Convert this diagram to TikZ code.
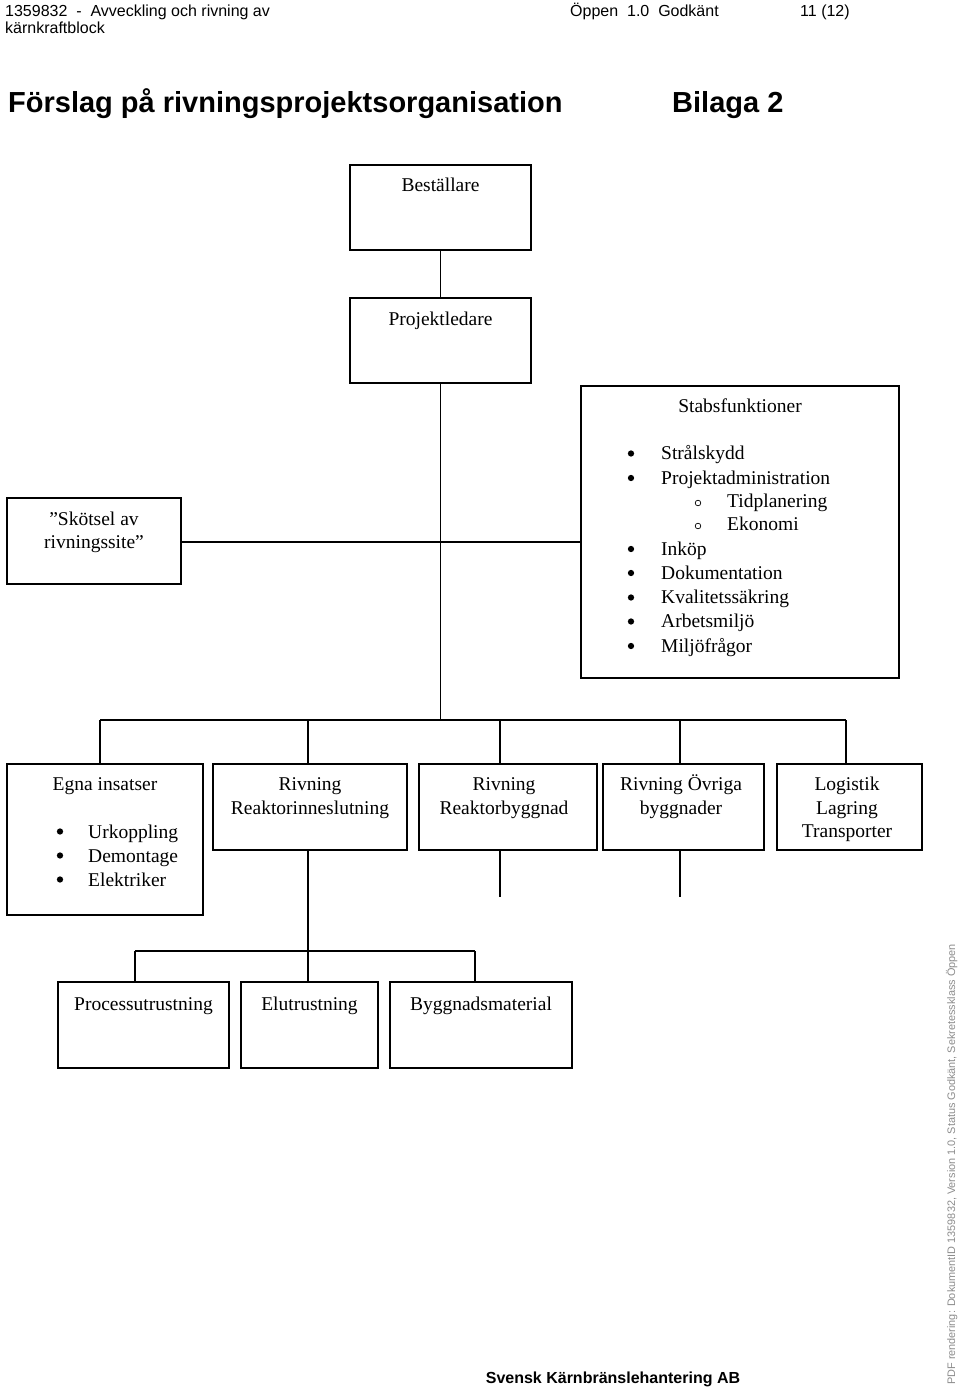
\documentclass[tikz,border=0pt]{standalone}
\usepackage{fontspec}
\setmainfont{Liberation Serif}
\newfontfamily\arialf{Liberation Sans}
\begin{document}
\begin{tikzpicture}[x=1pt,y=-1pt,
  box/.style={draw, line width=1.3pt, inner sep=0pt},
  conn/.style={line width=1.1pt},
  lbl/.style={inner sep=0pt, anchor=base, font=\fontsize{19.5}{23}\selectfont},
  itm/.style={inner sep=0pt, anchor=base west, font=\fontsize{19.5}{23}\selectfont},
  bul/.style={circle, fill=black, inner sep=0pt, minimum size=6.3pt},
  subbul/.style={circle, draw=black, line width=0.7pt, inner sep=0pt, minimum size=5.6pt},
  hdr/.style={inner sep=0pt, anchor=base west, font=\arialf\fontsize{16}{18}\selectfont},
  ttl/.style={inner sep=0pt, anchor=base west, font=\arialf\bfseries\fontsize{29}{32}\selectfont}]
\useasboundingbox (0,0) rectangle (960,1389);

% header
\node[hdr] (h1) at (5,16.5) {1359832\ \ -\ \ Avveckling och rivning av};
\node[hdr] (h2) at (5,33.5) {kärnkraftblock};
\node[hdr] (h3) at (570,16.5) {Öppen\ \ 1.0\ \ Godkänt};
\node[hdr] (h4) at (800,16.5) {11 (12)};
\node[ttl] (title) at (8,112.5) {Förslag på rivningsprojektsorganisation};
\node[ttl] (bilaga) at (672,112.5) {Bilaga 2};

% boxes
\node[box, minimum width=181pt, minimum height=85pt] (best) at (440.5,207.5) {};
\node[box, minimum width=181pt, minimum height=85pt] (proj) at (440.5,340.5) {};
\node[box, minimum width=174pt, minimum height=86pt] (skot) at (94,541) {};
\node[box, minimum width=318pt, minimum height=292pt] (stab) at (740,532) {};
\node[box, minimum width=196pt, minimum height=151pt] (egna) at (105,839.5) {};
\node[box, minimum width=194pt, minimum height=86pt] (rr) at (310,807) {};
\node[box, minimum width=178pt, minimum height=86pt] (rb) at (508,807) {};
\node[box, minimum width=161pt, minimum height=86pt] (ro) at (683.5,807) {};
\node[box, minimum width=145pt, minimum height=86pt] (log) at (849.5,807) {};
\node[box, minimum width=171pt, minimum height=86pt] (proc) at (143.5,1025) {};
\node[box, minimum width=137pt, minimum height=86pt] (elut) at (309.5,1025) {};
\node[box, minimum width=182pt, minimum height=86pt] (bygg) at (481,1025) {};

% box texts
\node[lbl] (bestT) at (440.5,191.5) {Beställare};
\node[lbl] (projT) at (440.5,325) {Projektledare};
\node[lbl] (skotT1) at (94,525.5) {”Skötsel av};
\node[lbl] (skotT2) at (94,548.5) {rivningssite”};
\node[lbl] (stabT) at (740,412.5) {Stabsfunktioner};

\node[bul] (sb1) at (631,453.5) {};  \node[itm] (si1) at (661,459.5) {Strålskydd};
\node[bul] (sb2) at (631,478) {};    \node[itm] (si2) at (661,484) {Projektadministration};
\node[subbul] (sb3) at (698,503) {}; \node[itm] (si3) at (727,507.5) {Tidplanering};
\node[subbul] (sb4) at (698,526) {}; \node[itm] (si4) at (727,530.5) {Ekonomi};
\node[bul] (sb5) at (631,549) {};    \node[itm] (si5) at (661,555) {Inköp};
\node[bul] (sb6) at (631,573) {};    \node[itm] (si6) at (661,579) {Dokumentation};
\node[bul] (sb7) at (631,597.5) {};  \node[itm] (si7) at (661,603.5) {Kvalitetssäkring};
\node[bul] (sb8) at (631,621.5) {};  \node[itm] (si8) at (661,627.5) {Arbetsmiljö};
\node[bul] (sb9) at (631,646) {};    \node[itm] (si9) at (661,652) {Miljöfrågor};

\node[lbl] (egnaT) at (105,790) {Egna insatser};
\node[bul] (eb1) at (60,831.5) {}; \node[itm] (ei1) at (88,838) {Urkoppling};
\node[bul] (eb2) at (60,855.5) {}; \node[itm] (ei2) at (88,862) {Demontage};
\node[bul] (eb3) at (60,879.5) {}; \node[itm] (ei3) at (88,886) {Elektriker};

\node[lbl] (rrT1) at (310,790) {Rivning};
\node[lbl] (rrT2) at (310,814) {Reaktorinneslutning};
\node[lbl] (rbT1) at (504,790) {Rivning};
\node[lbl] (rbT2) at (504,814) {Reaktorbyggnad};
\node[lbl] (roT1) at (681,790) {Rivning Övriga};
\node[lbl] (roT2) at (681,814) {byggnader};
\node[lbl] (logT1) at (847,790) {Logistik};
\node[lbl] (logT2) at (847,814) {Lagring};
\node[lbl] (logT3) at (847,837.5) {Transporter};

\node[lbl] (procT) at (143.5,1010) {Processutrustning};
\node[lbl] (elutT) at (309.5,1010) {Elutrustning};
\node[lbl] (byggT) at (481,1010) {Byggnadsmaterial};

% connectors
\coordinate (hl) at (440.5,542);
\coordinate (bus) at (440.5,720);
\coordinate (d1) at (100,720);
\coordinate (d2) at (308,720);
\coordinate (d3) at (500,720);
\coordinate (d4) at (680,720);
\coordinate (d5) at (846,720);
\coordinate (s3) at (500,897);
\coordinate (s4) at (680,897);
\coordinate (e1) at (135,951);
\coordinate (e2) at (308,951);
\coordinate (e3) at (475,951);

\draw[conn] (best.south) -- (proj.north);
\draw[conn] (proj.south) -- (bus);
\draw[conn] (skot.east |- hl) -- (stab.west |- hl);
\draw[conn] (d1) -- (d5);
\draw[conn] (d1) -- (d1 |- egna.north);
\draw[conn] (d2) -- (d2 |- rr.north);
\draw[conn] (d3) -- (d3 |- rb.north);
\draw[conn] (d4) -- (d4 |- ro.north);
\draw[conn] (d5) -- (d5 |- log.north);
\draw[conn] (rb.south -| s3) -- (s3);
\draw[conn] (ro.south -| s4) -- (s4);
\draw[conn] (rr.south -| e2) -- (elut.north -| e2);
\draw[conn] (e1) -- (e3);
\draw[conn] (e1) -- (e1 |- proc.north);
\draw[conn] (e3) -- (e3 |- bygg.north);

% footer and side note
\node[inner sep=0pt, anchor=base, font=\arialf\bfseries\fontsize{16}{18}\selectfont] (foot) at (613,1383) {Svensk Kärnbränslehantering AB};
\node[inner sep=0pt, anchor=base west, rotate=90, text=black!45, font=\arialf\fontsize{10.9}{12}\selectfont] (side) at (955,1385) {PDF rendering: DokumentID 1359832, Version 1.0, Status Godkänt, Sekretessklass Öppen};
\end{tikzpicture}
\end{document}
